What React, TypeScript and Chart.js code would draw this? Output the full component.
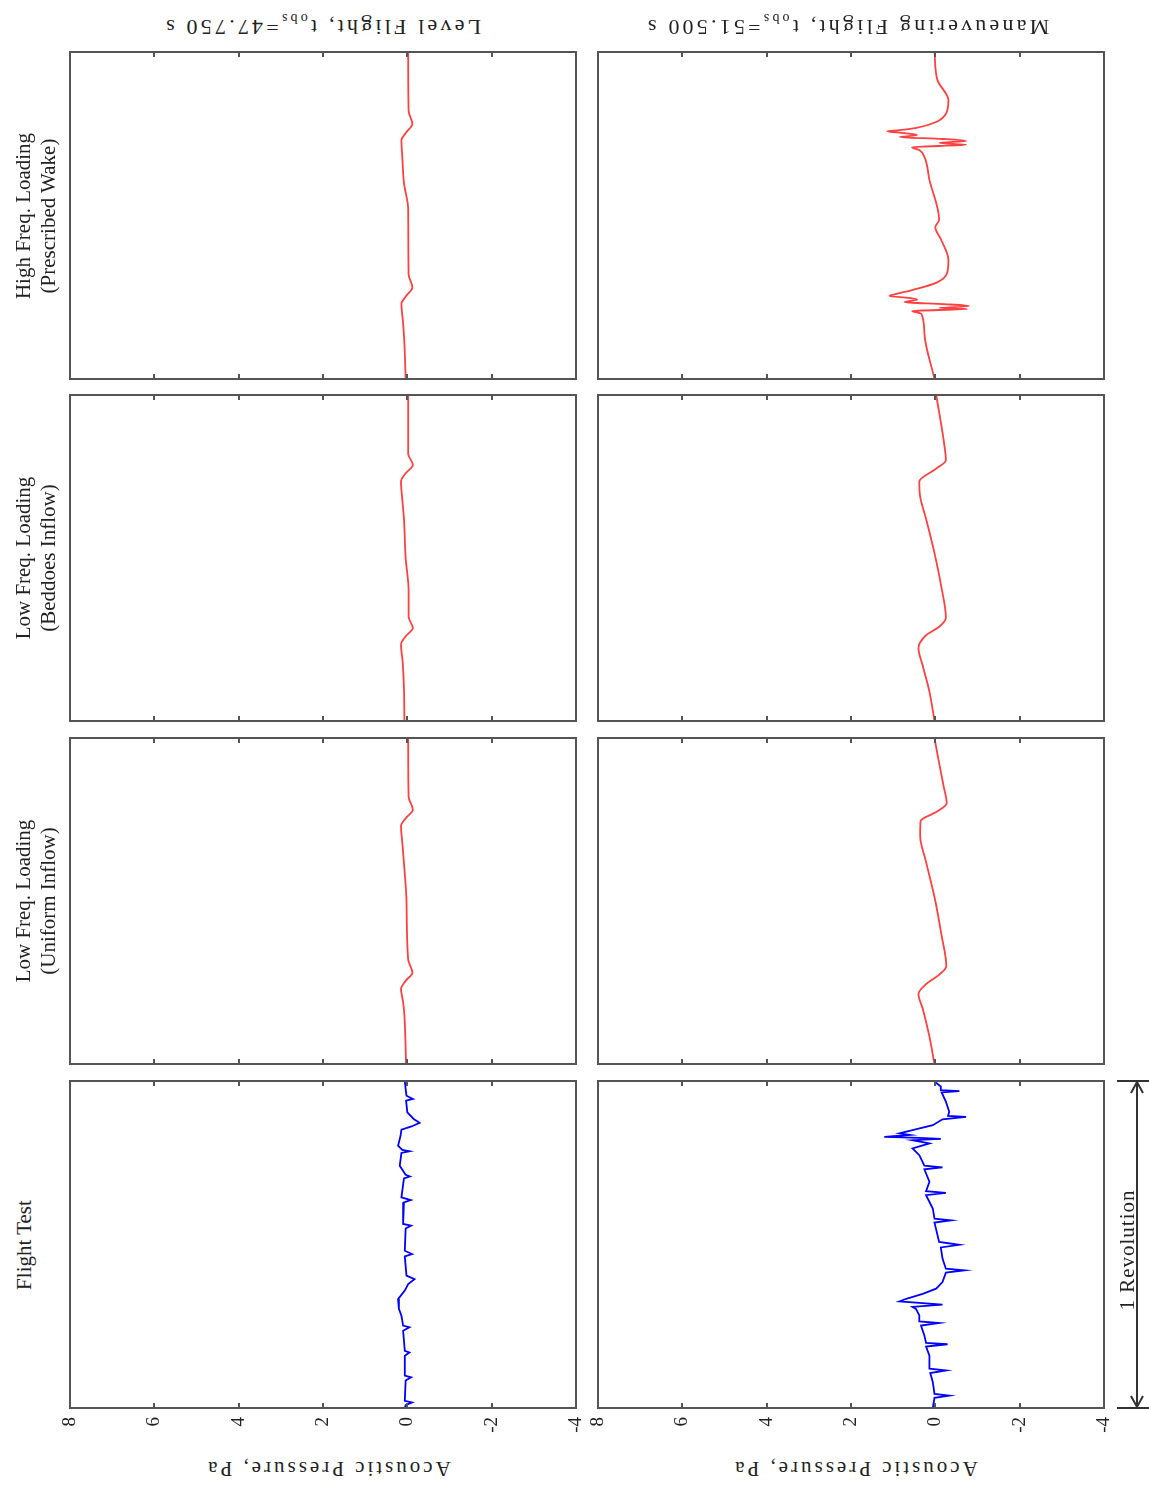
import React, { useEffect, useRef } from "react";
import { Chart, registerables } from "chart.js";

Chart.register(...registerables);

const FONT = "'Liberation Serif', 'Times New Roman', serif";

// ---- axis ticks / labels ----
const pressureTicks = [8, 6, 4, 2, 0, -2, -4];
const pressureLabel = "Acoustic Pressure, Pa";
const rowLabels = [
  ["High Freq. Loading", "(Prescribed Wake)"],
  ["Low Freq. Loading", "(Beddoes Inflow)"],
  ["Low Freq. Loading", "(Uniform Inflow)"],
  ["Flight Test"],
];
const columnTitleMain = ["Level Flight, t", "Maneuvering Flight, t"];
const columnTitleSub = ["obs", "obs"];
const columnTitleTail = ["=47.750 s", "=51.500 s"];
const revolutionLabel = "1 Revolution";

// ---- data: t = fraction of one revolution, p = acoustic pressure (Pa) ----
// Level flight
const levelHighT = [1.0, 0.82, 0.78, 0.755, 0.73, 0.68, 0.6, 0.52, 0.32, 0.28, 0.255, 0.23, 0.17, 0.11, 0];
const levelHighP = [-0.02, -0.03, -0.12, 0.02, 0.14, 0.12, 0.08, -0.02, -0.03, -0.12, 0.02, 0.14, 0.1, 0.07, 0.04];

const levelBeddoesT = [1.0, 0.82, 0.785, 0.76, 0.735, 0.68, 0.62, 0.5, 0.4, 0.32, 0.285, 0.26, 0.235, 0.18, 0.1, 0];
const levelBeddoesP = [-0.02, -0.02, -0.13, 0.04, 0.15, 0.12, 0.08, 0.04, -0.03, -0.03, -0.13, 0.04, 0.15, 0.11, 0.08, 0.07];

const levelUniformT = [1.0, 0.82, 0.78, 0.755, 0.73, 0.68, 0.6, 0.5, 0.32, 0.28, 0.255, 0.23, 0.19, 0.15, 0];
const levelUniformP = [-0.02, -0.03, -0.13, 0.03, 0.15, 0.12, 0.07, 0.02, -0.02, -0.12, 0.04, 0.15, 0.1, 0.07, 0.03];

const levelTestT = [
  1.0, 0.976, 0.955, 0.945, 0.94, 0.904, 0.884, 0.872, 0.861, 0.851, 0.833, 0.802, 0.789, 0.785, 0.78, 0.741,
  0.713, 0.708, 0.702, 0.644, 0.636, 0.629, 0.563, 0.558, 0.549, 0.481, 0.471, 0.464, 0.405, 0.394, 0.379, 0.359,
  0.333, 0.303, 0.282, 0.252, 0.247, 0.236, 0.175, 0.17, 0.16, 0.099, 0.094, 0.084, 0.022, 0.017, 0.009, 0,
];
const levelTestP = [
  0.06, 0.04, 0.02, -0.13, 0.03, 0.0, -0.15, -0.29, -0.1, 0.14, 0.16, 0.22, 0.12, -0.05, 0.14, 0.18,
  0.04, -0.06, 0.08, 0.14, -0.08, 0.08, 0.1, -0.09, 0.04, 0.06, -0.11, 0.06, 0.02, -0.17, -0.02, 0.06,
  0.22, 0.2, 0.14, 0.1, -0.05, 0.1, 0.06, -0.05, 0.06, 0.06, -0.09, 0.04, 0.06, -0.11, 0.04, 0.06,
];

// Maneuvering flight
const manHighT = [
  1.0, 0.914, 0.853, 0.813, 0.786, 0.768, 0.761, 0.758, 0.752, 0.746, 0.74, 0.734, 0.728, 0.722, 0.716, 0.709,
  0.7, 0.679, 0.609, 0.486, 0.465, 0.425, 0.364, 0.324, 0.294, 0.272, 0.26, 0.254, 0.248, 0.242, 0.235, 0.229,
  0.223, 0.217, 0.214, 0.208, 0.199, 0.141, 0,
];
const manHighP = [
  0.02, -0.05, -0.31, -0.26, -0.02, 0.45, 0.85, 1.14, 0.73, 0.43, 0.85, -0.17, -0.73, -0.1, -0.73, 0.55,
  0.38, 0.26, 0.14, -0.09, 0, -0.14, -0.31, -0.28, -0.02, 0.55, 0.92, 1.09, 0.62, 0.43, 0.73, -0.21,
  -0.8, -0.1, -0.76, 0.55, 0.33, 0.26, 0.02,
];

const manBeddoesT = [1.0, 0.94, 0.85, 0.8, 0.774, 0.734, 0.688, 0.62, 0.515, 0.42, 0.316, 0.29, 0.263, 0.223, 0.17, 0.09, 0];
const manBeddoesP = [-0.02, -0.1, -0.21, -0.25, -0.02, 0.38, 0.36, 0.22, 0.02, -0.13, -0.25, -0.1, 0.22, 0.4, 0.3, 0.14, 0.02];

const manUniformT = [1.0, 0.93, 0.85, 0.8, 0.775, 0.745, 0.7, 0.62, 0.5, 0.4, 0.3, 0.275, 0.245, 0.215, 0.17, 0.09, 0];
const manUniformP = [0.02, -0.08, -0.2, -0.27, -0.05, 0.35, 0.36, 0.22, 0.0, -0.14, -0.26, -0.1, 0.22, 0.4, 0.3, 0.15, 0.02];

const manTestT = [
  0.998, 0.983, 0.972, 0.969, 0.965, 0.937, 0.906, 0.893, 0.89, 0.883, 0.865, 0.85, 0.84, 0.835, 0.829, 0.826,
  0.823, 0.819, 0.809, 0.794, 0.773, 0.741, 0.736, 0.73, 0.692, 0.663, 0.658, 0.651, 0.61, 0.579, 0.574, 0.567,
  0.508, 0.499, 0.491, 0.457, 0.426, 0.421, 0.414, 0.385, 0.365, 0.349, 0.334, 0.326, 0.321, 0.316, 0.309, 0.303,
  0.283, 0.265, 0.26, 0.252, 0.222, 0.199, 0.195, 0.188, 0.16, 0.12, 0.115, 0.107, 0.079, 0.043, 0.038, 0.031, 0,
];
const manTestP = [
  0.02, -0.13, -0.13, -0.57, -0.15, -0.25, -0.33, -0.3, -0.73, -0.17, 0.06, 0.54, 0.85, 0.6, 1.21, 0.38,
  -0.13, 0.54, 0.14, 0.54, 0.38, 0.26, -0.17, 0.26, 0.14, 0.22, -0.25, 0.22, 0.06, 0.02, -0.37, 0.02,
  -0.09, -0.57, -0.13, -0.17, -0.25, -0.69, -0.25, -0.17, -0.02, 0.3, 0.69, 0.85, 0.3, -0.17, 0.54, 0.46,
  0.38, 0.38, -0.09, 0.34, 0.26, 0.22, -0.29, 0.22, 0.14, 0.14, -0.25, 0.12, 0.06, 0.02, -0.33, 0.02, 0.06,
];

const RED = "#ff4040";
const BLUE = "#0000ff";

// ---- layout ----
const COL_LEFT = [70, 598];
const PANEL_W = 506;
const ROW_TOP = [52, 395, 738, 1081];
const ROW_H = [327, 326, 326, 327];
const PAD_X = 14;
const PAD_Y = 4;
const AXIS_H = 42;

const panelSeries = [
  [
    { t: levelHighT, p: levelHighP, color: RED, smooth: true },
    { t: levelBeddoesT, p: levelBeddoesP, color: RED, smooth: true },
    { t: levelUniformT, p: levelUniformP, color: RED, smooth: true },
    { t: levelTestT, p: levelTestP, color: BLUE, smooth: false },
  ],
  [
    { t: manHighT, p: manHighP, color: RED, smooth: true },
    { t: manBeddoesT, p: manBeddoesP, color: RED, smooth: true },
    { t: manUniformT, p: manUniformP, color: RED, smooth: true },
    { t: manTestT, p: manTestP, color: BLUE, smooth: false },
  ],
];

const framePlugin = {
  id: "frameTicks",
  afterDatasetsDraw(chart: any) {
    const { ctx, chartArea: a, scales } = chart;
    const xs = scales.x;
    ctx.save();
    ctx.strokeStyle = "#555";
    ctx.lineWidth = 2;
    ctx.strokeRect(a.left, a.top, a.right - a.left, a.bottom - a.top);
    ctx.beginPath();
    for (const v of pressureTicks) {
      const px = Math.round(xs.getPixelForValue(v));
      ctx.moveTo(px, a.bottom);
      ctx.lineTo(px, a.bottom - 5);
      ctx.moveTo(px, a.top);
      ctx.lineTo(px, a.top + 5);
    }
    ctx.stroke();
    ctx.restore();
  },
};

function Panel(props: {
  t: number[];
  p: number[];
  color: string;
  smooth: boolean;
  left: number;
  top: number;
  width: number;
  height: number;
  showTicks: boolean;
}) {
  const ref = useRef<HTMLCanvasElement>(null);
  const { t, p, color, smooth, left, top, width, height, showTicks } = props;
  const cw = width + 2 * PAD_X;
  const ch = height + PAD_Y + (showTicks ? AXIS_H : PAD_Y);
  useEffect(() => {
    const chart = new Chart(ref.current as HTMLCanvasElement, {
      type: "scatter",
      data: {
        datasets: [
          {
            data: t.map((tv, i) => ({ x: p[i], y: tv })),
            showLine: true,
            borderColor: color,
            backgroundColor: color,
            borderWidth: 1.8,
            pointRadius: 0,
            cubicInterpolationMode: smooth ? "monotone" : "default",
            tension: 0,
          },
        ],
      },
      options: {
        animation: false,
        responsive: false,
        devicePixelRatio: 1,
        events: [],
        indexAxis: "y",
        layout: { padding: { left: PAD_X, right: PAD_X, top: PAD_Y, bottom: showTicks ? 0 : PAD_Y } },
        plugins: { legend: { display: false }, tooltip: { enabled: false } },
        scales: {
          x: {
            type: "linear",
            min: -4,
            max: 8,
            reverse: true,
            display: showTicks,
            afterBuildTicks: (s: any) => {
              s.ticks = pressureTicks.map((v) => ({ value: v }));
            },
            afterFit: (s: any) => {
              if (showTicks) {
                s.height = AXIS_H;
              }
              s.paddingLeft = 0;
              s.paddingRight = 0;
            },
            grid: { display: false, drawTicks: false },
            border: { display: false },
            ticks: {
              autoSkip: false,
              minRotation: 90,
              maxRotation: 90,
              padding: 9,
              color: "#222",
              font: { family: FONT, size: 19 },
              callback: (v: any) => String(v),
            },
          },
          y: { type: "linear", min: 0, max: 1, display: false },
        },
      } as any,
      plugins: [framePlugin],
    });
    return () => chart.destroy();
  }, []);
  return (
    <canvas
      ref={ref}
      width={cw}
      height={ch}
      style={{ position: "absolute", left: left - PAD_X, top: top - PAD_Y, width: cw, height: ch }}
    />
  );
}

const textBase: React.CSSProperties = {
  position: "absolute",
  fontFamily: FONT,
  color: "#222",
  whiteSpace: "nowrap",
  textAlign: "center",
};

export default function App() {
  return (
    <div style={{ position: "absolute", left: 0, top: 0, width: 1149, height: 1488, background: "#fff", overflow: "hidden" }}>
      {panelSeries.map((col, ci) =>
        col.map((s, ri) => (
          <Panel
            key={`${ci}-${ri}`}
            t={s.t}
            p={s.p}
            color={s.color}
            smooth={s.smooth}
            left={COL_LEFT[ci]}
            top={ROW_TOP[ri]}
            width={PANEL_W}
            height={ROW_H[ri]}
            showTicks={ri === 3}
          />
        ))
      )}

      {/* column titles, upside down */}
      {columnTitleMain.map((m, ci) => (
        <div
          key={`title-${ci}`}
          style={{
            ...textBase,
            left: ci === 0 ? 322 : 847,
            top: 25,
            fontSize: 22,
            letterSpacing: 3.2,
            transform: "translate(-50%, -50%) rotate(180deg)",
          }}
        >
          {m}
          <sub style={{ fontSize: 14 }}>{columnTitleSub[ci]}</sub>
          {columnTitleTail[ci]}
        </div>
      ))}

      {/* pressure axis titles, upside down */}
      {COL_LEFT.map((cl, ci) => (
        <div
          key={`xl-${ci}`}
          style={{
            ...textBase,
            left: ci === 0 ? 328 : 855,
            top: 1468,
            fontSize: 21,
            letterSpacing: 3,
            transform: "translate(-50%, -50%) rotate(180deg)",
          }}
        >
          {pressureLabel}
        </div>
      ))}

      {/* row labels, reading bottom to top */}
      {rowLabels.map((lines, ri) => (
        <div
          key={`row-${ri}`}
          style={{
            ...textBase,
            left: lines.length > 1 ? 36 : 24,
            top: ROW_TOP[ri] + ROW_H[ri] / 2,
            fontSize: 21,
            lineHeight: "25px",
            transform: "translate(-50%, -50%) rotate(-90deg)",
          }}
        >
          {lines.map((l, i) => (
            <div key={i}>{l}</div>
          ))}
        </div>
      ))}

      {/* one revolution marker */}
      <svg width={49} height={360} style={{ position: "absolute", left: 1100, top: 1070 }}>
        <g stroke="#333" strokeWidth={2} fill="none">
          <line x1={37} y1={11} x2={37} y2={338} />
          <line x1={17} y1={11} x2={49} y2={11} />
          <line x1={17} y1={338} x2={49} y2={338} />
          <polyline points="31,23 37,12 43,23" />
          <polyline points="31,326 37,337 43,326" />
        </g>
      </svg>
      <div
        style={{
          ...textBase,
          left: 1127,
          top: 1250,
          fontSize: 21,
          letterSpacing: 1,
          transform: "translate(-50%, -50%) rotate(-90deg)",
        }}
      >
        {revolutionLabel}
      </div>
    </div>
  );
}
